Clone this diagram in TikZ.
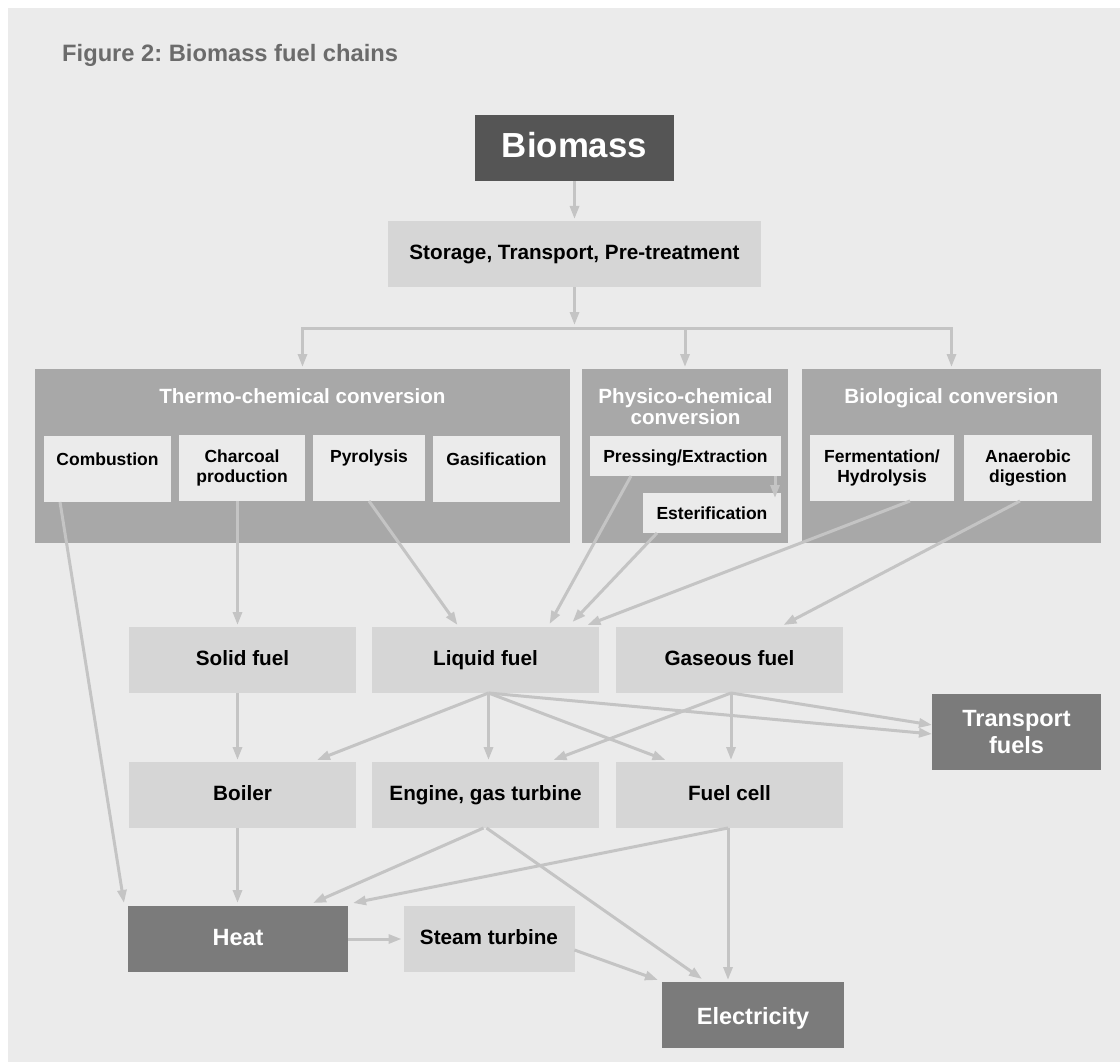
\documentclass[tikz,border=0pt]{standalone}
\usepackage{fontspec}
\setmainfont{Liberation Sans}
\usetikzlibrary{arrows.meta}
\definecolor{bgc}{HTML}{EBEBEB}
\definecolor{darkc}{HTML}{555555}
\definecolor{grpc}{HTML}{A8A8A8}
\definecolor{lightc}{HTML}{D6D6D6}
\definecolor{innerc}{HTML}{EBEBEB}
\definecolor{outc}{HTML}{7B7B7B}
\definecolor{linec}{HTML}{C4C4C4}
\definecolor{titlec}{HTML}{6B6B6B}
\frenchspacing
\begin{document}
\begin{tikzpicture}[x=1pt,y=-1pt,
  box/.style={rectangle, inner sep=0pt, outer sep=0pt, align=center, font=\bfseries\fontsize{20.7}{24}\selectfont},
  lbox/.style={box, fill=lightc, text=black, minimum height=66pt},
  obox/.style={box, fill=outc, text=white, minimum height=66pt, font=\bfseries\fontsize{23.5}{27.7}\selectfont},
  grp/.style={rectangle, fill=grpc, inner sep=0pt, outer sep=0pt, minimum height=174pt},
  grptitle/.style={text=white, font=\bfseries\fontsize{20.6}{20.7}\selectfont, align=center, inner sep=0pt},
  ibox/.style={box, fill=innerc, text=black, minimum height=66pt, font=\bfseries\fontsize{17.5}{20.5}\selectfont},
  oneline/.style={text height=0.73*#1, text depth=0.21*#1},
  arr/.style={draw=linec, line width=3pt, -{Triangle[length=13pt,width=9pt]}},
  ln/.style={draw=linec, line width=3pt, line cap=rect}
]
\useasboundingbox (0,0) rectangle (1120,1062);
\fill[white] (0,0) rectangle (1120,1062);
\fill[bgc] (8,8) rectangle (1120,1062);

\node[anchor=base west, text=titlec, inner sep=0pt, font=\bfseries\fontsize{23.7}{28}\selectfont] (title) at (62,62) {Figure 2: Biomass fuel chains};

% top
\node[box, oneline=34.8pt, fill=darkc, text=white, minimum width=199pt, minimum height=66pt, font=\bfseries\fontsize{34.8}{40}\selectfont] (bio) at (574.5,148) {Biomass};
\node[lbox, oneline=20.7pt, minimum width=373pt] (stor) at (574.5,254) {Storage, Transport, Pre-treatment};

% groups
\node[grp, minimum width=535pt] (thermo) at (302.5,456) {};
\node[grp, minimum width=206pt] (phys) at (685,456) {};
\node[grp, minimum width=299pt] (biol) at (951.5,456) {};
\node[grptitle, oneline=20.6pt] (thermot) at (302.5,398) {Thermo-chemical conversion};
\node[grptitle] (physt) at (685.5,406.5) {Physico-chemical\\conversion};
\node[grptitle, oneline=20.6pt] (biolt) at (951.5,398) {Biological conversion};

\node[ibox, minimum width=127pt] (comb) at (107.5,469) {Combustion\\\phantom{Combustion}};
\node[ibox, minimum width=126pt] (char) at (242,468) {Charcoal\\production};
\node[ibox, minimum width=112pt] (pyro) at (369,468) {Pyrolysis\\\phantom{Pyrolysis}};
\node[ibox, minimum width=127pt] (gasi) at (496.5,469) {Gasification\\\phantom{Gasification}};
\node[ibox, text height=16.8pt, text depth=3.7pt, minimum width=191pt, minimum height=40pt] (press) at (685.5,456) {Pressing/Extraction};
\node[ibox, text height=16.8pt, text depth=3.7pt, minimum width=138pt, minimum height=40pt] (ester) at (712,513) {Esterification};
\node[ibox, minimum width=144pt] (ferm) at (882,468) {Fermentation/\\Hydrolysis};
\node[ibox, minimum width=128pt] (anae) at (1028,468) {Anaerobic\\digestion};

% fuels
\node[lbox, oneline=20.7pt, minimum width=227pt] (solid) at (242.5,660) {Solid fuel};
\node[lbox, oneline=20.7pt, minimum width=227pt] (liq) at (485.5,660) {Liquid fuel};
\node[lbox, oneline=20.7pt, minimum width=227pt] (gas) at (729.5,660) {Gaseous fuel};
\node[obox, minimum width=169pt, minimum height=76pt] (trans) at (1016.5,732) {Transport\\fuels};

% conversion devices
\node[lbox, oneline=20.7pt, minimum width=227pt] (boil) at (242.5,795) {Boiler};
\node[lbox, oneline=20.7pt, minimum width=227pt] (engine) at (485.5,795) {Engine, gas turbine};
\node[lbox, oneline=20.7pt, minimum width=227pt] (fcell) at (729.5,795) {Fuel cell};

% outputs
\node[obox, oneline=23.5pt, minimum width=220pt] (heat) at (238,939) {Heat};
\node[lbox, oneline=20.7pt, minimum width=171pt] (steam) at (489,939) {Steam turbine};
\node[obox, text height=23.2pt, text depth=4.9pt, minimum width=182pt] (elec) at (753,1015) {Electricity};

% connectors top
\draw[arr] (bio.south) -- ([yshift=2pt]stor.north);
\coordinate (bar) at (574.5,328);
\draw[arr] (stor.south) -- ([yshift=3pt]bar);
\draw[ln] (thermo.north |- bar) -- (biol.north |- bar);
\draw[arr] (thermo.north |- bar) -- ([yshift=2pt]thermo.north);
\draw[arr] (phys.north |- bar) -- ([yshift=2pt]phys.north);
\draw[arr] (biol.north |- bar) -- ([yshift=2pt]biol.north);
\draw[arr] ([xshift=-6pt]press.south east) -- ([xshift=-6pt,yshift=-5pt]ester.north east);

% to fuels
\draw[arr] ([xshift=16pt]comb.south west) -- ([xshift=-4pt,yshift=3pt]heat.north west);
\draw[arr] ([xshift=-4.5pt]char.south) -- ([xshift=-5pt,yshift=2pt]solid.north);
\draw[arr] (pyro.south) -- ([xshift=-28pt,yshift=2pt]liq.north);
\draw[arr] ([xshift=41pt]press.south west) -- ([xshift=64pt,yshift=3pt]liq.north);
\draw[arr] ([xshift=14pt]ester.south west) -- ([xshift=87pt,yshift=5pt]liq.north);
\draw[arr] ([xshift=28pt]ferm.south) -- ([xshift=102pt,yshift=2pt]liq.north);
\draw[arr] ([xshift=-8pt]anae.south) -- ([xshift=54pt,yshift=2pt]gas.north);

% fuels to devices
\draw[arr] ([xshift=-5pt]solid.south) -- ([xshift=-5pt,yshift=2pt]boil.north);
\draw[arr] ([xshift=3pt]liq.south) -- ([xshift=74.5pt,yshift=2pt]boil.north);
\draw[arr] ([xshift=3pt]liq.south) -- ([xshift=3pt,yshift=2pt]engine.north);
\draw[arr] ([xshift=3pt]liq.south) -- ([xshift=-64pt,yshift=2pt]fcell.north);
\draw[arr] ([xshift=3pt]liq.south) -- ([yshift=-2pt]trans.west);
\draw[arr] ([xshift=1.5pt]gas.south) -- ([xshift=68pt,yshift=2pt]engine.north);
\draw[arr] ([xshift=1.5pt]gas.south) -- ([xshift=1.5pt,yshift=2pt]fcell.north);
\draw[arr] ([xshift=1.5pt]gas.south) -- ([yshift=7pt]trans.west);

% devices to outputs
\draw[arr] ([xshift=-5pt]boil.south) -- ([xshift=-0.5pt,yshift=3pt]heat.north);
\draw[arr] ([xshift=-2pt]engine.south) -- ([xshift=75pt,yshift=3pt]heat.north);
\draw[arr] ([xshift=1pt]engine.south) -- ([xshift=40pt,yshift=3pt]elec.north west);
\draw[arr] ([xshift=-1.5pt]fcell.south) -- ([xshift=5pt,yshift=3pt]heat.north east);
\draw[arr] ([xshift=-1.5pt]fcell.south) -- ([xshift=-25pt,yshift=2pt]elec.north);
\draw[arr] (heat.east) -- ([xshift=-2pt]steam.west);
\draw[arr] ([yshift=-11pt]steam.east) -- ([xshift=-4pt,yshift=2pt]elec.north west);
\end{tikzpicture}
\end{document}
